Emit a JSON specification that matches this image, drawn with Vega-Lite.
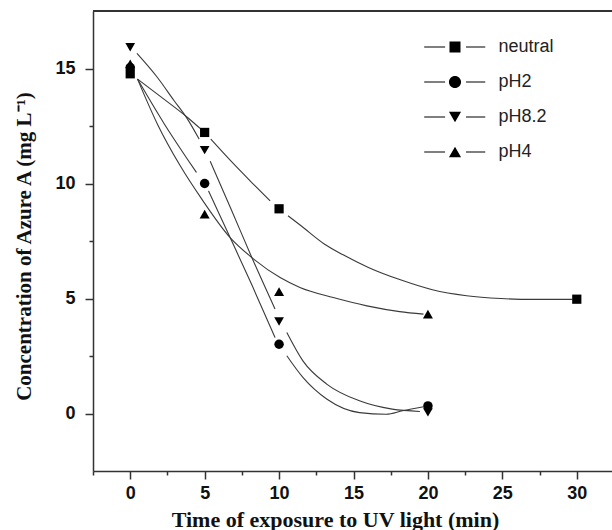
{
  "$schema": "https://vega.github.io/schema/vega-lite/v6.json",
  "width": 521,
  "height": 460,
  "autosize": {"type": "none"},
  "padding": {"left": 93, "top": 11, "right": 0, "bottom": 59},
  "background": "white",
  "config": {
    "view": {"stroke": null},
    "axis": {
      "grid": false,
      "domainColor": "#333",
      "domainWidth": 1.5,
      "tickColor": "#333",
      "tickWidth": 1.5,
      "labelFont": "Liberation Sans",
      "labelFontWeight": "bold",
      "labelFontSize": 18,
      "labelColor": "#111",
      "labelOverlap": false,
      "labelFlush": false,
      "titleFont": "Liberation Serif",
      "titleFontWeight": "bold",
      "titleColor": "#111"
    }
  },
  "datasets": {
    "markers": [
      {"series": "neutral", "time": 0, "conc": 14.77},
      {"series": "neutral", "time": 5, "conc": 12.22},
      {"series": "neutral", "time": 10, "conc": 8.9},
      {"series": "neutral", "time": 30, "conc": 4.97},
      {"series": "pH2", "time": 0, "conc": 15.04},
      {"series": "pH2", "time": 5, "conc": 10.0},
      {"series": "pH2", "time": 10, "conc": 3.01},
      {"series": "pH2", "time": 20, "conc": 0.33},
      {"series": "pH8.2", "time": 0, "conc": 15.92},
      {"series": "pH8.2", "time": 5, "conc": 11.45},
      {"series": "pH8.2", "time": 10, "conc": 4.0},
      {"series": "pH8.2", "time": 20, "conc": 0.05},
      {"series": "pH4", "time": 0, "conc": 15.2},
      {"series": "pH4", "time": 5, "conc": 8.67},
      {"series": "pH4", "time": 10, "conc": 5.3},
      {"series": "pH4", "time": 20, "conc": 4.32}
    ],
    "curves": [
      {"seg": "neutral-a", "time": 0.49, "conc": 14.54},
      {"seg": "neutral-a", "time": 2.0, "conc": 13.8},
      {"seg": "neutral-a", "time": 3.85, "conc": 12.87},
      {"seg": "neutral-a", "time": 4.74, "conc": 12.37},
      {"seg": "neutral-b", "time": 5.41, "conc": 11.93},
      {"seg": "neutral-b", "time": 6.76, "conc": 10.98},
      {"seg": "neutral-b", "time": 8.2, "conc": 10.02},
      {"seg": "neutral-b", "time": 9.4, "conc": 9.24},
      {"seg": "neutral-c", "time": 10.6, "conc": 8.6},
      {"seg": "neutral-c", "time": 11.5, "conc": 8.15},
      {"seg": "neutral-c", "time": 13.06, "conc": 7.36},
      {"seg": "neutral-c", "time": 14.3, "conc": 6.9},
      {"seg": "neutral-c", "time": 16.0, "conc": 6.35},
      {"seg": "neutral-c", "time": 18.2, "conc": 5.8},
      {"seg": "neutral-c", "time": 20.3, "conc": 5.38},
      {"seg": "neutral-c", "time": 22.6, "conc": 5.12},
      {"seg": "neutral-c", "time": 24.9, "conc": 5.0},
      {"seg": "neutral-c", "time": 27.0, "conc": 4.96},
      {"seg": "neutral-c", "time": 29.7, "conc": 4.96},
      {"seg": "pH2-a", "time": 0.49, "conc": 14.54},
      {"seg": "pH2-a", "time": 2.28, "conc": 12.6},
      {"seg": "pH2-a", "time": 3.8, "conc": 11.1},
      {"seg": "pH2-a", "time": 4.45, "conc": 10.48},
      {"seg": "pH2-b", "time": 5.26, "conc": 9.68},
      {"seg": "pH2-b", "time": 6.71, "conc": 7.65},
      {"seg": "pH2-b", "time": 8.2, "conc": 5.55},
      {"seg": "pH2-b", "time": 9.73, "conc": 3.3},
      {"seg": "pH2-c", "time": 10.52, "conc": 2.51},
      {"seg": "pH2-c", "time": 11.6, "conc": 1.57},
      {"seg": "pH2-c", "time": 13.2, "conc": 0.63},
      {"seg": "pH2-c", "time": 15.4, "conc": 0.04},
      {"seg": "pH2-c", "time": 17.2, "conc": -0.03},
      {"seg": "pH2-c", "time": 18.3, "conc": 0.12},
      {"seg": "pH2-c", "time": 19.7, "conc": 0.29},
      {"seg": "pH8.2-a", "time": 0.45, "conc": 15.66},
      {"seg": "pH8.2-a", "time": 1.83, "conc": 14.61},
      {"seg": "pH8.2-a", "time": 2.95, "conc": 13.6},
      {"seg": "pH8.2-a", "time": 3.85, "conc": 12.8},
      {"seg": "pH8.2-a", "time": 4.63, "conc": 11.93},
      {"seg": "pH8.2-b", "time": 5.37, "conc": 10.97},
      {"seg": "pH8.2-b", "time": 6.8, "conc": 8.85},
      {"seg": "pH8.2-b", "time": 8.17, "conc": 6.78},
      {"seg": "pH8.2-b", "time": 9.73, "conc": 4.54},
      {"seg": "pH8.2-c", "time": 10.52, "conc": 3.52},
      {"seg": "pH8.2-c", "time": 11.6, "conc": 2.29},
      {"seg": "pH8.2-c", "time": 13.2, "conc": 1.28},
      {"seg": "pH8.2-c", "time": 15.4, "conc": 0.55},
      {"seg": "pH8.2-c", "time": 17.6, "conc": 0.19},
      {"seg": "pH8.2-c", "time": 19.46, "conc": 0.09},
      {"seg": "pH4-a", "time": 0.49, "conc": 14.54},
      {"seg": "pH4-a", "time": 1.83, "conc": 12.58},
      {"seg": "pH4-a", "time": 3.36, "conc": 10.77},
      {"seg": "pH4-a", "time": 4.81, "conc": 9.32},
      {"seg": "pH4-a", "time": 6.71, "conc": 7.65},
      {"seg": "pH4-a", "time": 8.17, "conc": 6.78},
      {"seg": "pH4-a", "time": 10.07, "conc": 5.91},
      {"seg": "pH4-a", "time": 11.4, "conc": 5.48},
      {"seg": "pH4-a", "time": 13.64, "conc": 5.04},
      {"seg": "pH4-a", "time": 15.9, "conc": 4.68},
      {"seg": "pH4-a", "time": 18.1, "conc": 4.43},
      {"seg": "pH4-a", "time": 19.7, "conc": 4.32}
    ]
  },
  "layer": [
    {
      "data": {"name": "markers"},
      "mark": {"type": "rule", "color": "#333", "strokeWidth": 1.5},
      "encoding": {
        "y": {"datum": 17.5, "type": "quantitative", "scale": {"domain": [-2.5, 17.5], "nice": false, "zero": false}, "axis": null}
      }
    },
    {
      "data": {"name": "curves"},
      "mark": {"type": "line", "interpolate": "monotone", "color": "#3a3a3a", "strokeWidth": 1.1},
      "encoding": {
        "x": {
          "field": "time", "type": "quantitative",
          "scale": {"domain": [-2.5, 32.5], "nice": false, "zero": false},
          "axis": {
            "orient": "bottom",
            "values": [0, 5, 10, 15, 20, 25, 30],
            "tickSize": 8,
            "labelPadding": 5,
            "title": "Time of exposure to UV light (min)",
            "titleFontSize": 22,
            "titleX": 242,
            "titleY": 48,
            "titleBaseline": "middle",
            "titleAlign": "center"
          }
        },
        "y": {
          "field": "conc", "type": "quantitative",
          "scale": {"domain": [-2.5, 17.5], "nice": false, "zero": false},
          "axis": {
            "orient": "left",
            "values": [0, 5, 10, 15],
            "tickSize": 8,
            "labelPadding": 10,
            "title": "Concentration of Azure A (mg L⁻¹)",
            "titleFontSize": 21,
            "titleX": -69,
            "titleY": 235,
            "titleAngle": -90,
            "titleBaseline": "middle",
            "titleAlign": "center"
          }
        },
        "detail": {"field": "seg", "type": "nominal"}
      }
    },
    {
      "data": {"name": "markers"},
      "mark": {"type": "point", "filled": true, "color": "#000", "opacity": 1, "strokeWidth": 0},
      "encoding": {
        "x": {
          "field": "time", "type": "quantitative",
          "axis": {"orient": "bottom", "values": [-2.5, 2.5, 7.5, 12.5, 17.5, 22.5, 27.5, 32.5], "tickSize": 4, "labels": false, "domain": false, "title": null}
        },
        "y": {
          "field": "conc", "type": "quantitative",
          "axis": {"orient": "left", "values": [2.5, 7.5, 12.5], "tickSize": 4, "labels": false, "domain": false, "title": null}
        },
        "shape": {
          "field": "series", "type": "nominal",
          "scale": {"domain": ["neutral", "pH2", "pH8.2", "pH4"], "range": ["square", "circle", "triangle-down", "triangle-up"]},
          "legend": null
        },
        "size": {
          "field": "series", "type": "nominal",
          "scale": {"domain": ["neutral", "pH2", "pH8.2", "pH4"], "range": [85, 100, 130, 130]},
          "legend": null
        }
      }
    },
    {
      "data": {"name": "markers"},
      "transform": [{"filter": "false"}],
      "mark": {"type": "point", "filled": true, "color": "#000", "opacity": 1, "strokeWidth": 0},
      "encoding": {
        "x": {"field": "time", "type": "quantitative", "axis": null},
        "y": {"field": "conc", "type": "quantitative", "axis": null},
        "shape": {
          "field": "series", "type": "nominal",
          "scale": {
            "domain": ["neutral", "pH2", "pH8.2", "pH4"],
            "range": [
              "M-5.6,-0.1H-1.8V0.1H-5.6Z M2,-0.1H5.5V0.1H2Z M-1,-1H1V1H-1Z",
              "M-5.6,-0.1H-1.8V0.1H-5.6Z M2,-0.1H5.5V0.1H2Z M-1.1,0A1.1,1.1 0 1,0 1.1,0A1.1,1.1 0 1,0 -1.1,0Z",
              "M-5.6,-0.1H-1.8V0.1H-5.6Z M2,-0.1H5.5V0.1H2Z M-1.1,-0.95L1.1,-0.95L0,0.95Z",
              "M-5.6,-0.1H-1.8V0.1H-5.6Z M2,-0.1H5.5V0.1H2Z M-1.1,0.95L1.1,0.95L0,-0.95Z"
            ]
          },
          "legend": {
            "orient": "none",
            "legendX": 353,
            "legendY": 27,
            "title": null,
            "padding": 0,
            "symbolSize": 121,
            "symbolStrokeWidth": 0,
            "symbolFillColor": "#000",
            "symbolOpacity": 1,
            "labelFont": "Liberation Sans",
            "labelFontSize": 18,
            "labelColor": "#222",
            "labelOffset": 34.5,
            "rowPadding": 17
          }
        }
      }
    }
  ],
  "resolve": {
    "scale": {"shape": "independent", "size": "independent"},
    "axis": {"x": "independent", "y": "independent"}
  }
}
